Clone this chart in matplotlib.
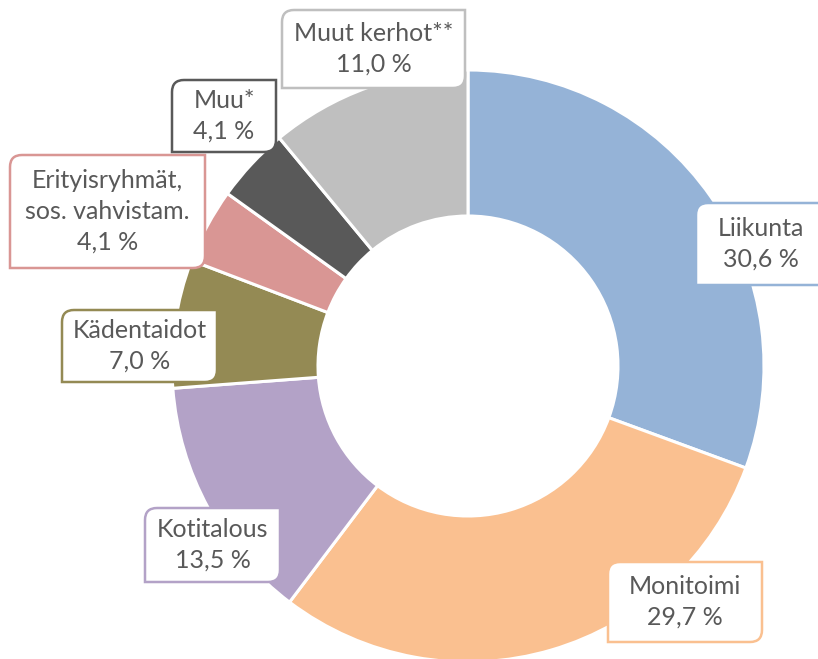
import matplotlib.pyplot as plt
from matplotlib.path import Path
from matplotlib.patches import PathPatch

W, H = 818, 659

categories = ['Liikunta', 'Monitoimi', 'Kotitalous', 'Kädentaidot',
              'Erityisryhmät,\nsos. vahvistam.', 'Muu*', 'Muut kerhot**']
values = [30.6, 29.7, 13.5, 7.0, 4.1, 4.1, 11.0]
colors = ['#95B3D7', '#FAC090', '#B3A2C7', '#948A54', '#D99694', '#595959', '#BFBFBF']

# label boxes in pixel coords: x0, y0 (top), x1, y1 (bottom)
boxes = [(696, 203, 830, 285), (608, 562, 762, 642), (145, 508, 280, 582),
         (62, 310, 217, 382), (10, 155, 205, 268), (172, 80, 276, 152),
         (282, 10, 465, 88)]


def fy(y):
    return H - y


def callout(x0, y0, x1, y1, r=12):
    # top-left and bottom-right corners rounded
    t, b = fy(y0), fy(y1)
    verts = [(x0, t - r), (x0, t), (x0 + r, t), (x1, t), (x1, b + r),
             (x1, b), (x1 - r, b), (x0, b), (x0, t - r)]
    codes = [Path.MOVETO, Path.CURVE3, Path.CURVE3, Path.LINETO, Path.LINETO,
             Path.CURVE3, Path.CURVE3, Path.LINETO, Path.CLOSEPOLY]
    return Path(verts, codes)


fig = plt.figure(figsize=(W / 100, H / 100), dpi=100)
ax = fig.add_axes([0, 0, 1, 1])

ax.pie(values, colors=colors, startangle=90, counterclock=False,
       center=(468, fy(366)), radius=296, frame=True,
       wedgeprops=dict(width=146, edgecolor='white', linewidth=2.2))
ax.set_xlim(0, W)
ax.set_ylim(0, H)
ax.set_aspect('equal')
ax.axis('off')

for cat, v, c, (x0, y0, x1, y1) in zip(categories, values, colors, boxes):
    ax.add_patch(PathPatch(callout(x0, y0, x1, y1), facecolor='white',
                           edgecolor=c, linewidth=1.8, zorder=5))
    txt = cat + '\n' + f'{v:.1f}'.replace('.', ',') + ' %'
    cx = (x0 + W) / 2 + 4 if x1 > W else (x0 + x1) / 2
    ax.text(cx, fy((y0 + y1) / 2), txt, ha='center', va='center',
            fontsize=18, color='#595959', family='Lato',
            linespacing=1.4, zorder=6)

fig.savefig('out.png', dpi=100)
